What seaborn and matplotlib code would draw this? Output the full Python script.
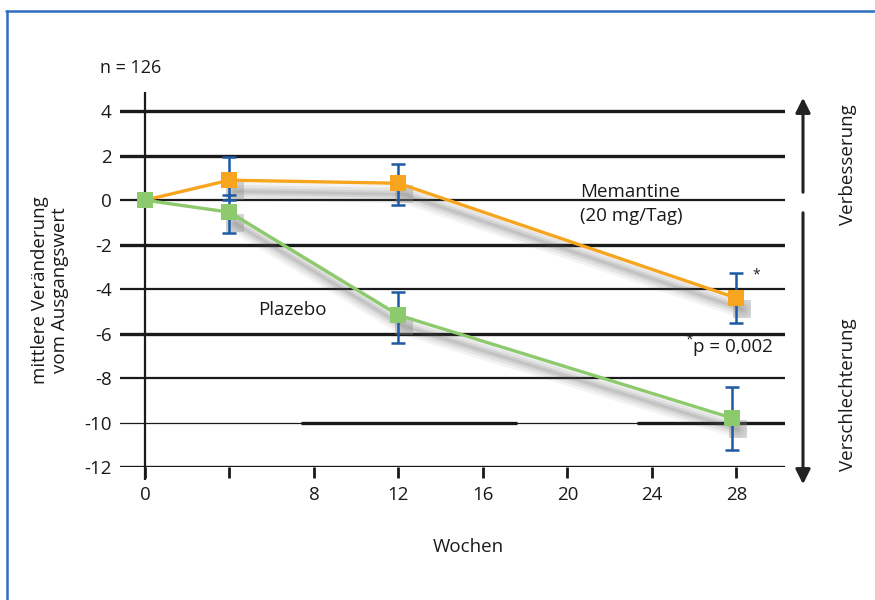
import matplotlib
matplotlib.use("Agg")
import matplotlib.pyplot as plt
from matplotlib.lines import Line2D
from matplotlib.patches import FancyArrowPatch
from matplotlib.transforms import offset_copy
import pandas as pd
import seaborn as sns

# data
weeks_mem = [0, 4, 12, 28]
mean_mem = [0.0, 0.9, 0.76, -4.4]
upper_mem = [0.0, 1.93, 1.62, -3.28]
lower_mem = [0.0, 0.0, -0.22, -5.53]

weeks_pla = [0, 4, 12, 27.8]
mean_pla = [0.0, -0.54, -5.17, -9.8]
upper_pla = [0.0, 0.22, -4.13, -8.4]
lower_pla = [0.0, -1.48, -6.43, -11.24]

x_ticks = [0, 4, 8, 12, 16, 20, 24, 28]
x_ticklabels = ["0", "", "8", "12", "16", "20", "24", "28"]
y_ticks = [4, 2, 0, -2, -4, -6, -8, -10, -12]

ORANGE = "#F7A51F"
GREEN = "#8DCA6E"
BLUE = "#1D5AA3"
INK = "#1a1a1a"
FONT = ["Open Sans", "DejaVu Sans"]

sns.set_theme(style="white")
plt.rcParams["font.family"] = FONT
plt.rcParams["text.color"] = INK

df = pd.concat([
    pd.DataFrame({"Woche": weeks_mem, "Wert": mean_mem, "Gruppe": "Memantine"}),
    pd.DataFrame({"Woche": weeks_pla, "Wert": mean_pla, "Gruppe": "Plazebo"}),
])

fig = plt.figure(figsize=(8.75, 6), dpi=100)
ax = fig.add_axes([120 / 875, 1 - 467 / 600, 665 / 875, 378 / 600])
ax.set_xlim(-1.18, 30.3)
ax.set_ylim(-12, 5)

# horizontal lines (thick / medium / thin like the original)
for y in [4, 2, -2, -6, -12]:
    ax.axhline(y, color=INK, lw=2.4, zorder=1)
for y in [0, -4, -8]:
    ax.axhline(y, color=INK, lw=1.6, zorder=1)
ax.axhline(-10, color=INK, lw=0.9, zorder=1)
ax.hlines([-10, -10], [7.4, 23.3], [17.6, 30.3], color=INK, lw=2.4, zorder=1)
ax.vlines(0, -12.6, 4.85, color=INK, lw=1.6, zorder=1, clip_on=False)

# soft drop shadows under the series
shade = offset_copy(ax.transData, fig=fig, x=4, y=-8, units="points")
for wk, mv in [(weeks_mem, mean_mem), (weeks_pla, mean_pla)]:
    for lw, a in [(13, 0.07), (9, 0.09), (5, 0.12), (2, 0.12)]:
        ax.plot(wk[1:], mv[1:], color="#555555", lw=lw, alpha=a, transform=shade,
                solid_capstyle="round", zorder=2)
    ax.plot(wk[1:], mv[1:], ls="none", marker="s", ms=13, mew=0, color="#888888",
            alpha=0.35, transform=shade, zorder=2)

# error bars
for wk, mv, up, lo in [(weeks_mem, mean_mem, upper_mem, lower_mem),
                       (weeks_pla, mean_pla, upper_pla, lower_pla)]:
    ax.errorbar(wk[1:], mv[1:],
                yerr=[[m - l for m, l in zip(mv[1:], lo[1:])],
                      [u - m for m, u in zip(mv[1:], up[1:])]],
                fmt="none", ecolor=BLUE, elinewidth=1.8, capsize=5, capthick=1.8, zorder=3)

sns.lineplot(data=df, x="Woche", y="Wert", hue="Gruppe",
             palette={"Memantine": ORANGE, "Plazebo": GREEN},
             marker="s", markersize=12, markeredgewidth=0, linewidth=2.4,
             legend=False, ax=ax, zorder=4)

# ticks
ax.set_xticks(x_ticks)
ax.set_xticklabels(x_ticklabels)
ax.set_yticks(y_ticks)
ax.set_yticklabels([str(t) for t in y_ticks])
ax.tick_params(axis="x", direction="out", length=8, width=2.0, color=INK,
               pad=6, labelsize=13.5, labelcolor=INK, bottom=True)
ax.tick_params(axis="y", length=0, pad=6, labelsize=13.5, labelcolor=INK)
for s in ax.spines.values():
    s.set_visible(False)
ax.set_xlabel("")
ax.set_ylabel("")
ax.grid(False)

# annotations
ax.text(20.6, -0.18, "Memantine\n(20 mg/Tag)", fontsize=13.5, va="center", ha="left",
        linespacing=1.45)
ax.text(5.36, -4.94, "Plazebo", fontsize=13.5, va="center", ha="left")
ax.text(25.95, -6.6, "p = 0,002", fontsize=13.5, va="center", ha="left")
ax.text(25.6, -6.3, "*", fontsize=10, va="center", ha="left")
ax.text(28.75, -3.35, "*", fontsize=10, va="center", ha="left")

fig.text(100 / 875, 1 - 68 / 600, "n = 126", fontsize=13, va="center", ha="left")
fig.text(468 / 875, 1 - 547 / 600, "Wochen", fontsize=13.5, va="center", ha="center")
fig.text(50 / 875, 1 - 290 / 600, "mittlere Veränderung\nvom Ausgangswert", fontsize=13.5,
         rotation=90, va="center", ha="center", linespacing=1.15)
fig.text(848 / 875, 1 - 165 / 600, "Verbesserung", fontsize=13.5, rotation=90,
         va="center", ha="center")
fig.text(848 / 875, 1 - 395 / 600, "Verschlechterung", fontsize=13.5, rotation=90,
         va="center", ha="center")

# direction arrows
for y0, y1 in [(195, 95), (210, 487)]:
    fig.add_artist(FancyArrowPatch((803 / 875, 1 - y0 / 600), (803 / 875, 1 - y1 / 600),
                                   transform=fig.transFigure, arrowstyle="-|>",
                                   mutation_scale=22, lw=2.2, color="#222222"))

# blue frame (top and left)
fig.add_artist(Line2D([6 / 875, 1], [1 - 10.5 / 600] * 2, transform=fig.transFigure,
                      color="#2F6FC0", lw=1.8))
fig.add_artist(Line2D([6.5 / 875] * 2, [0, 1 - 10.5 / 600], transform=fig.transFigure,
                      color="#2F6FC0", lw=1.8))

fig.savefig("out.png", dpi=100, facecolor="white")
